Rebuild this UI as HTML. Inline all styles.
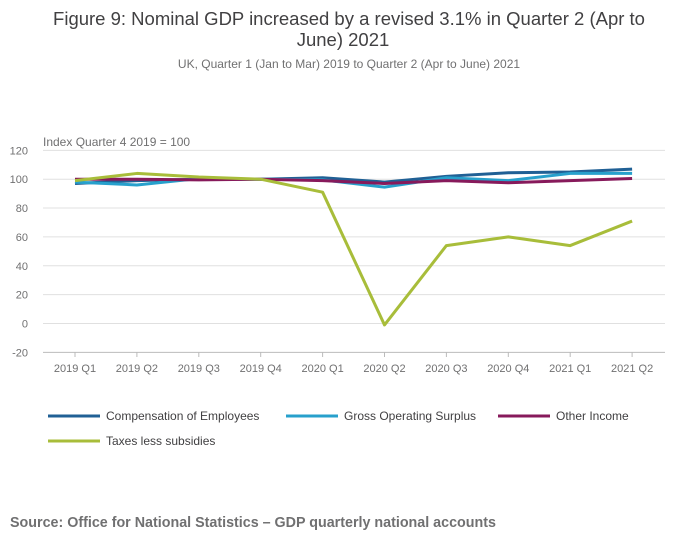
<!DOCTYPE html>
<html><head><meta charset="utf-8"><style>
body{margin:0;background:#fff;font-family:"Liberation Sans",sans-serif;}
</style></head><body>
<svg width="700" height="549" viewBox="0 0 700 549">
<text x="349" y="25" text-anchor="middle" font-size="18.5" fill="#414042">Figure 9: Nominal GDP increased by a revised 3.1% in Quarter 2 (Apr to</text>
<text x="343" y="46" text-anchor="middle" font-size="18.5" fill="#414042">June) 2021</text>
<text x="349" y="68" text-anchor="middle" font-size="12" fill="#707071">UK, Quarter 1 (Jan to Mar) 2019 to Quarter 2 (Apr to June) 2021</text>
<text x="43" y="146" font-size="12" fill="#707071">Index Quarter 4 2019 = 100</text>
<g id="grid"></g><g id="series"></g>
<g id="legend" font-size="12" fill="#414042"></g>
<text x="10" y="527" font-size="14.3" font-weight="bold" fill="#707071">Source: Office for National Statistics – GDP quarterly national accounts</text>
</svg>
<script>
const categories=["2019 Q1","2019 Q2","2019 Q3","2019 Q4","2020 Q1","2020 Q2","2020 Q3","2020 Q4","2021 Q1","2021 Q2"];
const yTicks=[120,100,80,60,40,20,0,-20];
const comp=[97,99,100,100,101,98,102,104.5,105,107];
const gos=[98,96,100.5,100,99.5,94.5,101,99,104,104];
const other=[100,100,99.5,100,99,97,99,97.5,99,100.5];
const taxes=[99,104,101.5,100,91,-1,54,60,54,71];
const seriesNames=["Compensation of Employees","Gross Operating Surplus","Other Income","Taxes less subsidies"];
const colors=["#206095","#27a0cc","#871a5b","#a8bd3a"];
const ns="http://www.w3.org/2000/svg";
const x=i=>75+i*61.9;
const y=v=>323.5-v*1.443;
const grid=document.getElementById('grid');
function mk(t,a,p){const e=document.createElementNS(ns,t);for(const k in a)e.setAttribute(k,a[k]);p.appendChild(e);return e;}
yTicks.forEach(v=>{
 const l=mk('line',{x1:43,x2:665,y1:y(v),y2:y(v),stroke:v===-20?'#bbb':'#e0e0e0','stroke-width':1},grid);
 
 
 const t=mk('text',{x:28,y:y(v)+4,'text-anchor':'end','font-size':11,fill:'#707071'},grid);t.textContent=v;
 
 
});
categories.forEach((c,i)=>{
 const t=mk('text',{x:x(i),y:372,'text-anchor':'middle','font-size':11,fill:'#707071'},grid);t.textContent=c;
 
 
 mk('line',{x1:x(i),x2:x(i),y1:352,y2:357,stroke:'#bbb'},grid);
});
const sg=document.getElementById('series');
[comp,gos,other,taxes].forEach((d,s)=>{
 const p=mk('polyline',{points:d.map((v,i)=>x(i)+','+y(v)).join(' '),fill:'none',stroke:colors[s],'stroke-width':3,'stroke-linejoin':'round'},sg);
 
 
});
const lg=document.getElementById('legend');
const pos=[[48,416],[286,416],[498,416],[48,441]];
seriesNames.forEach((n,s)=>{
 const [lx,ly]=pos[s];
 const l=mk('line',{x1:lx,x2:lx+52,y1:ly,y2:ly,stroke:colors[s],'stroke-width':3},lg);
 
 
 const t=mk('text',{x:lx+58,y:ly+4},lg);t.textContent=n;
 
 
});
</script>
</body></html>
